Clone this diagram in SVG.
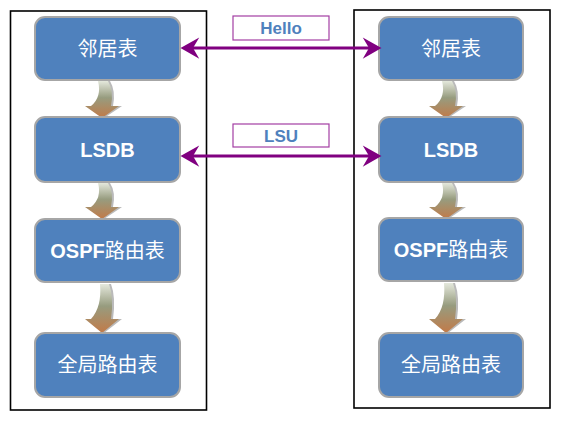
<svg xmlns="http://www.w3.org/2000/svg" width="567" height="423" viewBox="0 0 567 423">
<defs>
<style>
.frame{fill:#fff;stroke:#000;stroke-width:1.6}
.node rect{fill:#4f81bd;stroke:#a6a6a6;stroke-width:2}
.node text{fill:#fff;font-family:"Liberation Sans","Noto Sans CJK SC",sans-serif;font-size:20px;text-anchor:middle}
.b{font-weight:bold}
.lbl rect{fill:#fff;stroke:#a33ea3;stroke-width:1.2}
.lbl text{fill:#4f81bd;font-family:"Liberation Sans",Arial,sans-serif;font-size:17px;font-weight:bold;text-anchor:middle}
.msg{stroke:#800080;stroke-width:3;fill:none;marker-start:url(#ah);marker-end:url(#ah)}
.flow{fill:url(#fg)}
.shadow{fill:#3a3a3a;opacity:0.35}
</style>
<marker id="ah" markerUnits="userSpaceOnUse" markerWidth="30" markerHeight="30" viewBox="-10 -12 24 24" refX="0" refY="0" orient="auto-start-reverse">
<path d="M10,0 L-5,-8.5 L0,0 L-5,8.5 Z" fill="#800080"/>
</marker>
<linearGradient id="fg" x1="0" y1="0" x2="0" y2="1">
<stop offset="0" stop-color="#e4e8dc"/>
<stop offset="0.45" stop-color="#979c7f"/>
<stop offset="1" stop-color="#c27a48"/>
</linearGradient>
</defs>
<rect class="frame" x="10.5" y="11" width="196" height="399"/>
<rect class="frame" x="354" y="10" width="196" height="398"/>

<g id="flows">
<path class="shadow" d="M100,81 Q104,97 93,106 L87,106 L104,118 L122,106 L113,106 Q116,91 110,81 Z"/>
<path class="flow" d="M98,81 Q102,97 91,106 L85,106 L102,118 L119,106 L111,106 Q114,91 108,81 Z"/>
<path class="shadow" d="M100,183 Q104,198 93,207 L87,207 L104,219 L122,207 L113,207 Q116,192 110,183 Z"/>
<path class="flow" d="M98,183 Q102,198 91,207 L85,207 L102,219 L119,207 L111,207 Q114,192 108,183 Z"/>
<path class="shadow" d="M102,284 Q104,307 93,319 L87,319 L104,333 L122,319 L113,319 Q116,297 111,284 Z"/>
<path class="flow" d="M100,284 Q102,307 91,319 L85,319 L102,333 L119,319 L111,319 Q114,297 109,284 Z"/>
<path class="shadow" d="M444,81 Q448,97 437,106 L431,106 L448,118 L466,106 L457,106 Q460,91 454,81 Z"/>
<path class="flow" d="M442,81 Q446,97 435,106 L429,106 L446,118 L463,106 L455,106 Q458,91 452,81 Z"/>
<path class="shadow" d="M444,183 Q448,198 437,207 L431,207 L448,219 L466,207 L457,207 Q460,192 454,183 Z"/>
<path class="flow" d="M442,183 Q446,198 435,207 L429,207 L446,219 L463,207 L455,207 Q458,192 452,183 Z"/>
<path class="shadow" d="M446,283 Q448,307 437,319 L431,319 L448,333 L466,319 L457,319 Q460,297 455,283 Z"/>
<path class="flow" d="M444,283 Q446,307 435,319 L429,319 L446,333 L463,319 L455,319 Q458,297 453,283 Z"/>
</g>

<g id="n-l1" class="node"><rect x="35" y="17" width="145" height="63" rx="10"/><text x="107.5" y="56">邻居表</text></g>
<g id="n-l2" class="node"><rect x="35" y="117" width="145" height="65" rx="10"/><text class="b" x="107.5" y="157">LSDB</text></g>
<g id="n-l3" class="node"><rect x="35" y="219" width="145" height="63" rx="10"/><text x="107.5" y="258"><tspan class="b">OSPF</tspan>路由表</text></g>
<g id="n-l4" class="node"><rect x="35" y="333" width="145" height="64" rx="10"/><text x="107.5" y="372">全局路由表</text></g>

<g id="n-r1" class="node"><rect x="379" y="17" width="144" height="63" rx="10"/><text x="451" y="56">邻居表</text></g>
<g id="n-r2" class="node"><rect x="379" y="117" width="144" height="65" rx="10"/><text class="b" x="451" y="157">LSDB</text></g>
<g id="n-r3" class="node"><rect x="379" y="218" width="144" height="63" rx="10"/><text x="451" y="257"><tspan class="b">OSPF</tspan>路由表</text></g>
<g id="n-r4" class="node"><rect x="379" y="333" width="144" height="64" rx="10"/><text x="451" y="372">全局路由表</text></g>

<g id="connectors">
<line class="msg" x1="193" y1="48" x2="369" y2="48"/>
<line class="msg" x1="193" y1="156" x2="369" y2="156"/>
</g>

<g id="lbl-hello" class="lbl"><rect x="233" y="16" width="96" height="24"/><text x="281" y="34">Hello</text></g>
<g id="lbl-lsu" class="lbl"><rect x="233" y="124" width="96" height="23"/><text x="281" y="142">LSU</text></g>
</svg>
